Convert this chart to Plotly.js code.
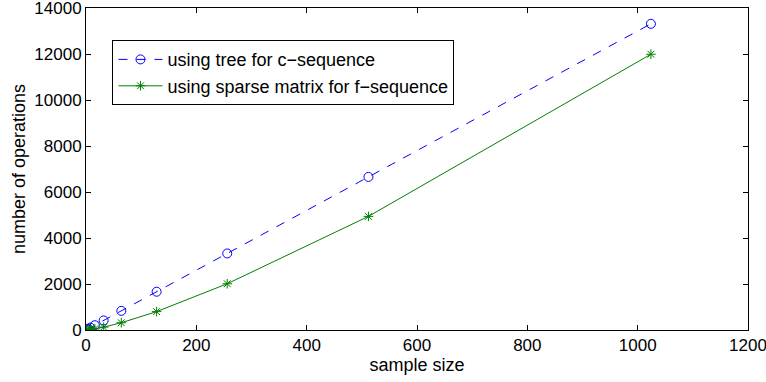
<!DOCTYPE html>
<html><head><meta charset="utf-8">
<script src="https://cdn.plot.ly/plotly-3.0.1.min.js"></script>
<style>body{margin:0;padding:0;background:#fff}</style>
</head><body>
<div id="chart" style="width:766px;height:382px"></div>
<script>
const sampleSize = [1, 2, 4, 8, 16, 32, 64, 128, 256, 512, 1024];
const treeOps = [13, 26, 52, 104, 208, 416, 832, 1664, 3328, 6656, 13312];
const sparseOps = [1, 3, 8, 20, 50, 125, 315, 800, 2010, 4940, 11990];
const seriesNames = ['using tree for c\u2212sequence', 'using sparse matrix for f\u2212sequence'];

const fam = 'Liberation Sans, Arial, sans-serif';
const tickFont = {family: fam, size: 17, color: '#000'};
const titleFont = {family: fam, size: 18, color: '#000'};
const traces = [
  {x: sampleSize, y: treeOps, name: seriesNames[0], mode: 'lines+markers', legendgroup: 'a',
   line: {color: '#0000ff', width: 1, dash: 'dash'},
   marker: {symbol: 'circle-open', size: 9, color: '#0000ff', line: {width: 1, color: '#0000ff'}}},
  {x: sampleSize, y: sparseOps, name: seriesNames[1], mode: 'lines+markers', legendgroup: 'b',
   line: {color: '#008000', width: 1},
   marker: {symbol: 'asterisk-open', size: 8, color: '#008000', line: {width: 1, color: '#008000'}}}
];
const axisCommon = {showgrid: false, zeroline: false, showline: true, linecolor: '#000', linewidth: 1,
  mirror: 'ticks', ticks: 'inside', ticklen: 5, tickcolor: '#000', tickfont: tickFont,
  exponentformat: 'none', separatethousands: false, tickformat: 'd', ticklabeloverflow: 'allow'};
const layout = {
  width: 766, height: 382,
  margin: {l: 86, r: 18, t: 8, b: 52},
  paper_bgcolor: '#fff', plot_bgcolor: '#fff',
  font: titleFont,
  showlegend: true,
  legend: {x: 0.04, y: 0.9, xanchor: 'left', yanchor: 'top', bordercolor: '#000', borderwidth: 1,
    bgcolor: '#fff', font: titleFont, tracegroupgap: 9, traceorder: 'normal', itemwidth: 44},
  xaxis: Object.assign({}, axisCommon, {range: [0, 1200], tickvals: [0,200,400,600,800,1000,1200],
    title: {text: 'sample size', font: titleFont, standoff: 0}}),
  yaxis: Object.assign({}, axisCommon, {range: [0, 14000], tickvals: [0,2000,4000,6000,8000,10000,12000,14000],
    title: {text: 'number of operations', font: titleFont, standoff: 4}})
};
Plotly.newPlot('chart', traces, layout, {displayModeBar: false, staticPlot: true});
</script>
</body></html>
